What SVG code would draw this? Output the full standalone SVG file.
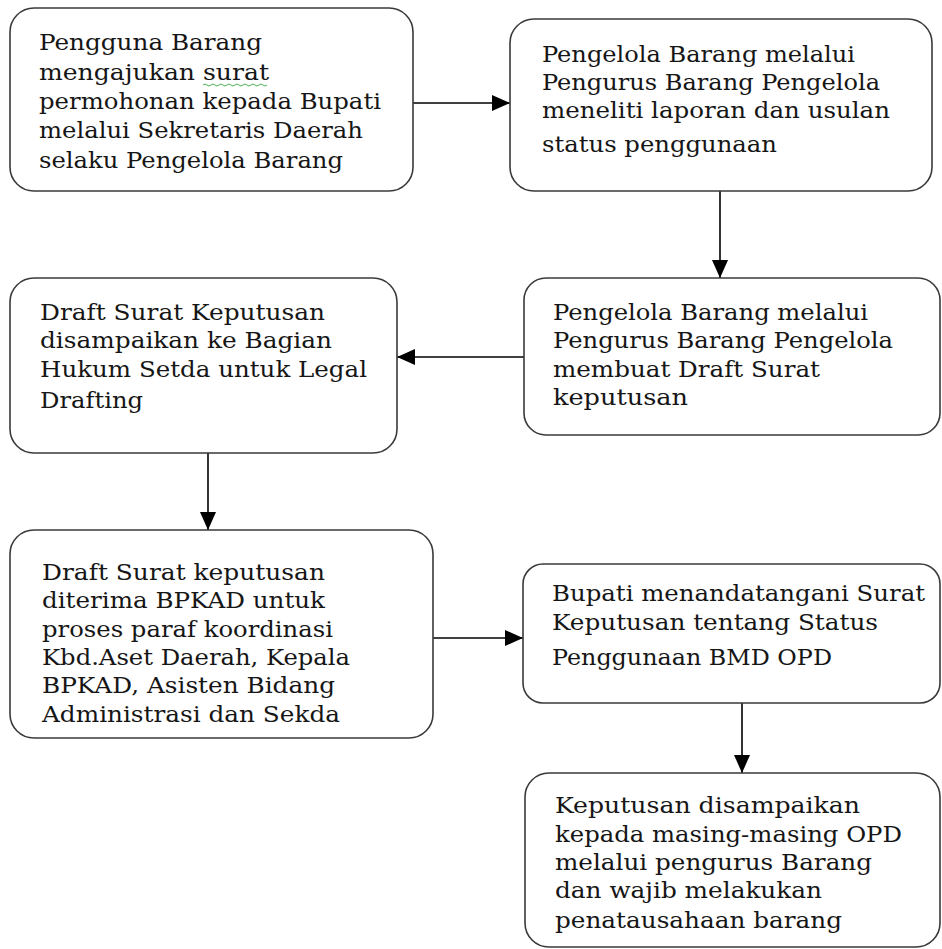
<svg xmlns="http://www.w3.org/2000/svg" width="942" height="949" viewBox="0 0 942 949">
<defs>
<marker id="ah" markerUnits="userSpaceOnUse" markerWidth="18" markerHeight="16" refX="18" refY="8" orient="auto">
<path d="M0,0 L18,8 L0,16 z" fill="#000"/>
</marker>
<style>
.box{fill:#fff;stroke:#3a3a3a;stroke-width:1.6}
.t{font-family:"DejaVu Serif","Liberation Serif",serif;font-size:22px;fill:#161616}
.c{stroke:#000;stroke-width:1.6;fill:none}
</style>
</defs>
<rect width="942" height="949" fill="#fff"/>
<g id="connectors">
<line class="c" x1="413" y1="103" x2="510" y2="103" marker-end="url(#ah)"/>
<line class="c" x1="720" y1="191" x2="720" y2="278" marker-end="url(#ah)"/>
<line class="c" x1="524" y1="357" x2="397" y2="357" marker-end="url(#ah)"/>
<line class="c" x1="208" y1="453" x2="208" y2="530" marker-end="url(#ah)"/>
<line class="c" x1="433" y1="638" x2="523" y2="638" marker-end="url(#ah)"/>
<line class="c" x1="742" y1="703" x2="742" y2="773" marker-end="url(#ah)"/>
</g>
<g id="n1">
<rect class="box" x="10" y="8" width="403" height="183" rx="24"/>
<text class="t" x="39" y="50" textLength="223" lengthAdjust="spacingAndGlyphs">Pengguna Barang</text>
<text class="t" x="39" y="80" textLength="230" lengthAdjust="spacingAndGlyphs">mengajukan surat</text>
<path d="M203,85 q2,-2 4,0 t4,0 t4,0 t4,0 t4,0 t4,0 t4,0 t4,0 t4,0 t4,0 t4,0 t4,0 t4,0 t4,0 t4,0 t4,0" fill="none" stroke="#4caf50" stroke-width="1"/>
<text class="t" x="39" y="109" textLength="342" lengthAdjust="spacingAndGlyphs">permohonan kepada Bupati</text>
<text class="t" x="39" y="138" textLength="324" lengthAdjust="spacingAndGlyphs">melalui Sekretaris Daerah</text>
<text class="t" x="39" y="168" textLength="304" lengthAdjust="spacingAndGlyphs">selaku Pengelola Barang</text>
</g>
<g id="n2">
<rect class="box" x="510" y="19" width="422" height="172" rx="24"/>
<text class="t" x="542" y="62" textLength="313" lengthAdjust="spacingAndGlyphs">Pengelola Barang melalui</text>
<text class="t" x="542" y="90" textLength="338" lengthAdjust="spacingAndGlyphs">Pengurus Barang Pengelola</text>
<text class="t" x="542" y="118" textLength="348" lengthAdjust="spacingAndGlyphs">meneliti laporan dan usulan</text>
<text class="t" x="542" y="152" textLength="235" lengthAdjust="spacingAndGlyphs">status penggunaan</text>
</g>
<g id="n3">
<rect class="box" x="524" y="278" width="416" height="157" rx="22"/>
<text class="t" x="553" y="320" textLength="315" lengthAdjust="spacingAndGlyphs">Pengelola Barang melalui</text>
<text class="t" x="553" y="348" textLength="340" lengthAdjust="spacingAndGlyphs">Pengurus Barang Pengelola</text>
<text class="t" x="553" y="377" textLength="267" lengthAdjust="spacingAndGlyphs">membuat Draft Surat</text>
<text class="t" x="553" y="405" textLength="135" lengthAdjust="spacingAndGlyphs">keputusan</text>
</g>
<g id="n4">
<rect class="box" x="10" y="278" width="387" height="175" rx="24"/>
<text class="t" x="40" y="320" textLength="285" lengthAdjust="spacingAndGlyphs">Draft Surat Keputusan</text>
<text class="t" x="40" y="348" textLength="292" lengthAdjust="spacingAndGlyphs">disampaikan ke Bagian</text>
<text class="t" x="40" y="377" textLength="327" lengthAdjust="spacingAndGlyphs">Hukum Setda untuk Legal</text>
<text class="t" x="40" y="408" textLength="103" lengthAdjust="spacingAndGlyphs">Drafting</text>
</g>
<g id="n5">
<rect class="box" x="10" y="530" width="423" height="208" rx="24"/>
<text class="t" x="42" y="580" textLength="283" lengthAdjust="spacingAndGlyphs">Draft Surat keputusan</text>
<text class="t" x="42" y="608" textLength="283" lengthAdjust="spacingAndGlyphs">diterima BPKAD untuk</text>
<text class="t" x="42" y="637" textLength="291" lengthAdjust="spacingAndGlyphs">proses paraf koordinasi</text>
<text class="t" x="42" y="665" textLength="308" lengthAdjust="spacingAndGlyphs">Kbd.Aset Daerah, Kepala</text>
<text class="t" x="42" y="693" textLength="293" lengthAdjust="spacingAndGlyphs">BPKAD, Asisten Bidang</text>
<text class="t" x="42" y="722" textLength="298" lengthAdjust="spacingAndGlyphs">Administrasi dan Sekda</text>
</g>
<g id="n6">
<rect class="box" x="523" y="564" width="417" height="139" rx="20"/>
<text class="t" x="552" y="601" textLength="373" lengthAdjust="spacingAndGlyphs">Bupati menandatangani Surat</text>
<text class="t" x="552" y="630" textLength="326" lengthAdjust="spacingAndGlyphs">Keputusan tentang Status</text>
<text class="t" x="552" y="665" textLength="280" lengthAdjust="spacingAndGlyphs">Penggunaan BMD OPD</text>
</g>
<g id="n7">
<rect class="box" x="525" y="773" width="415" height="174" rx="24"/>
<text class="t" x="555" y="813" textLength="305" lengthAdjust="spacingAndGlyphs">Keputusan disampaikan</text>
<text class="t" x="555" y="842" textLength="347" lengthAdjust="spacingAndGlyphs">kepada masing-masing OPD</text>
<text class="t" x="555" y="870" textLength="317" lengthAdjust="spacingAndGlyphs">melalui pengurus Barang</text>
<text class="t" x="555" y="898" textLength="267" lengthAdjust="spacingAndGlyphs">dan wajib melakukan</text>
<text class="t" x="555" y="928" textLength="287" lengthAdjust="spacingAndGlyphs">penatausahaan barang</text>
</g>
</svg>
